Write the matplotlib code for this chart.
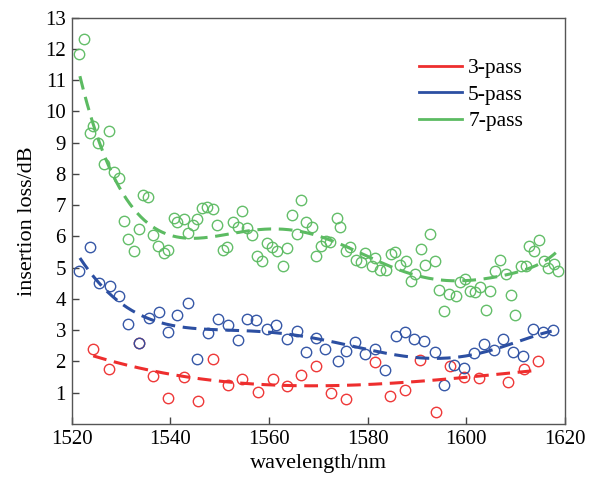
import numpy as np
import matplotlib
matplotlib.use("Agg")
import matplotlib.pyplot as plt

plt.rcParams['font.family'] = ['Liberation Serif', 'DejaVu Serif']
plt.rcParams['mathtext.fontset'] = 'stix'

x3 = [1524.4, 1527.5, 1533.7, 1536.5, 1539.6, 1542.7, 1545.6, 1548.7, 1551.7, 1554.5,
      1557.8, 1560.8, 1563.6, 1566.5, 1569.6, 1572.5, 1575.6, 1581.6, 1584.5, 1587.6,
      1590.6, 1593.9, 1596.6, 1599.6, 1602.5, 1608.5, 1611.7, 1614.6]
y3 = [2.40, 1.75, 2.60, 1.52, 0.82, 1.49, 0.75, 2.09, 1.24, 1.44,
      1.02, 1.45, 1.22, 1.58, 1.84, 0.99, 0.79, 1.98, 0.89, 1.10,
      2.05, 0.38, 1.86, 1.50, 1.46, 1.35, 1.77, 2.03]

x5 = [1521.5, 1523.7, 1525.6, 1527.8, 1529.6, 1531.4, 1533.7, 1535.6, 1537.7, 1539.5,
      1541.4, 1543.6, 1545.4, 1547.7, 1549.6, 1551.7, 1553.7, 1555.6, 1557.4, 1559.7,
      1561.4, 1563.7, 1565.7, 1567.6, 1569.6, 1571.4, 1573.9, 1575.7, 1577.4, 1579.5,
      1581.5, 1583.6, 1585.7, 1587.5, 1589.5, 1591.4, 1593.7, 1595.5, 1597.5, 1599.5,
      1601.5, 1603.6, 1605.6, 1607.5, 1609.5, 1611.4, 1613.6, 1615.5, 1617.5]
y5 = [4.88, 5.65, 4.52, 4.40, 4.10, 3.20, 2.59, 3.39, 3.59, 2.93,
      3.50, 3.88, 2.09, 2.90, 3.36, 3.16, 2.69, 3.36, 3.32, 3.05,
      3.16, 2.72, 2.98, 2.30, 2.76, 2.41, 2.02, 2.35, 2.63, 2.25,
      2.41, 1.73, 2.80, 2.95, 2.73, 2.64, 2.29, 1.24, 1.89, 1.79,
      2.27, 2.55, 2.36, 2.72, 2.30, 2.19, 3.03, 2.93, 3.01]

x7 = [1521.5, 1522.6, 1523.8, 1524.4, 1525.4, 1526.6, 1527.6, 1528.6, 1529.6, 1530.6,
      1531.4, 1532.7, 1533.6, 1534.4, 1535.5, 1536.5, 1537.5, 1538.7, 1539.6, 1540.7,
      1541.4, 1542.7, 1543.7, 1544.6, 1545.5, 1546.5, 1547.5, 1548.6, 1549.5, 1550.6,
      1551.6, 1552.7, 1553.7, 1554.5, 1555.6, 1556.5, 1557.6, 1558.6, 1559.6, 1560.6,
      1561.6, 1562.8, 1563.7, 1564.6, 1565.6, 1566.6, 1567.6, 1568.7, 1569.5, 1570.5,
      1571.5, 1572.4, 1573.7, 1574.5, 1575.6, 1576.4, 1577.6, 1578.7, 1579.5, 1580.8,
      1581.6, 1582.6, 1583.7, 1584.7, 1585.6, 1586.6, 1587.8, 1588.8, 1589.7, 1590.8,
      1591.7, 1592.6, 1593.7, 1594.5, 1595.5, 1596.5, 1597.9, 1598.8, 1599.7, 1600.8,
      1601.7, 1602.8, 1603.9, 1604.8, 1605.9, 1606.8, 1608.0, 1609.0, 1609.9, 1611.1,
      1612.0, 1612.8, 1613.8, 1614.8, 1615.8, 1616.5, 1617.8, 1618.6]
y7 = [11.84, 12.31, 9.30, 9.55, 8.98, 8.32, 9.38, 8.06, 7.86, 6.50,
      5.92, 5.54, 6.25, 7.32, 7.27, 6.04, 5.70, 5.46, 5.56, 6.58,
      6.45, 6.55, 6.10, 6.37, 6.55, 6.90, 6.95, 6.88, 6.36, 5.57,
      5.67, 6.46, 6.31, 6.81, 6.28, 6.05, 5.39, 5.23, 5.80, 5.65,
      5.53, 5.04, 5.62, 6.69, 6.07, 7.16, 6.46, 6.29, 5.38, 5.68,
      5.86, 5.81, 6.60, 6.29, 5.55, 5.67, 5.25, 5.19, 5.48, 5.06,
      5.30, 4.93, 4.93, 5.44, 5.51, 5.10, 5.20, 4.59, 4.80, 5.61,
      5.08, 6.07, 5.22, 4.29, 3.63, 4.15, 4.08, 4.53, 4.64, 4.26,
      4.21, 4.39, 3.66, 4.24, 4.89, 5.25, 4.80, 4.13, 3.49, 5.04,
      5.07, 5.71, 5.52, 5.90, 5.22, 4.98, 5.12, 4.90]

# ---- fitted trend curves ----
fx3 = [1524.4, 1529.8, 1536.6, 1544.7, 1556.0, 1566.0, 1576.4, 1586.0, 1596.0, 1604.0, 1614.4]
fy3 = [2.18, 1.95, 1.68, 1.47, 1.30, 1.24, 1.23, 1.30, 1.44, 1.57, 1.71]

fx5 = [1521.7, 1526.4, 1529.8, 1533.2, 1536.6, 1540.0, 1544.5, 1550.8, 1557.5, 1564.3,
       1570.0, 1576.1, 1582.9, 1589.6, 1595.7, 1600.0, 1604.1, 1610.9, 1617.3]
fy5 = [5.29, 4.40, 3.92, 3.55, 3.28, 3.12, 3.07, 3.04, 2.98, 2.88,
       2.72, 2.48, 2.27, 2.16, 2.12, 2.18, 2.32, 2.64, 2.98]

fx7 = [1521.7, 1523.7, 1526.4, 1529.8, 1533.2, 1536.6, 1540.0, 1544.5, 1550.8, 1556.5,
       1561.0, 1564.3, 1570.0, 1576.4, 1583.2, 1589.9, 1596.0, 1599.4, 1602.8, 1607.5,
       1610.9, 1615.0, 1618.2]
fy7 = [11.21, 9.83, 8.66, 7.59, 6.85, 6.31, 5.99, 5.89, 5.99, 6.26,
       6.30, 6.26, 5.94, 5.57, 5.14, 4.80, 4.62, 4.59, 4.59, 4.72,
       4.88, 5.20, 5.46]

labels = ['3-pass', '5-pass', '7-pass']
colors = ['#ee2e2e', '#2c4fa2', '#5cbb62']
fit_deg = [4, 6, 8]

fig = plt.figure(figsize=(5.98, 4.84), dpi=100)
ax = fig.add_axes([0.1196, 0.124, 0.8252, 0.8394])

series = [(x3, y3, fx3, fy3), (x5, y5, fx5, fy5), (x7, y7, fx7, fy7)]
for (xs, ys, fx, fy), c, lab, d in zip(series, colors, labels, fit_deg):
    ax.plot(xs, ys, linestyle='none', marker='o', ms=7.5, mfc='none', mec=c, mew=1.0,
            alpha=0.95, zorder=3)
    fx = np.asarray(fx); fy = np.asarray(fy)
    u = (fx - 1570.0) / 50.0
    p = np.polyfit(u, fy, d)
    xf = np.linspace(fx.min(), fx.max(), 400)
    ax.plot(xf, np.polyval(p, (xf - 1570.0) / 50.0), color=c, lw=2.2,
            dashes=(4.5, 2.5), zorder=4)
    ax.plot([], [], color=c, lw=2.0, label=lab)

ax.set_xlim(1520, 1620)
ax.set_ylim(0, 13)
ax.set_xticks([1520, 1540, 1560, 1580, 1600, 1620])
ax.set_yticks(range(1, 14))
ax.tick_params(direction='in', length=5, width=1, labelsize=15, color='#444444', pad=4)
for s in ax.spines.values():
    s.set_color('#555555')
    s.set_linewidth(1.0)
ax.set_xlabel('wavelength/nm', fontsize=16, labelpad=4)
ax.set_ylabel('insertion loss/dB', fontsize=16, labelpad=6)

leg = ax.legend(loc='upper left', bbox_to_anchor=(0.665, 0.948), frameon=False, fontsize=15.5,
                handlelength=2.0, handletextpad=0.28, labelspacing=0.3)

fig.savefig('out.png', dpi=100)
